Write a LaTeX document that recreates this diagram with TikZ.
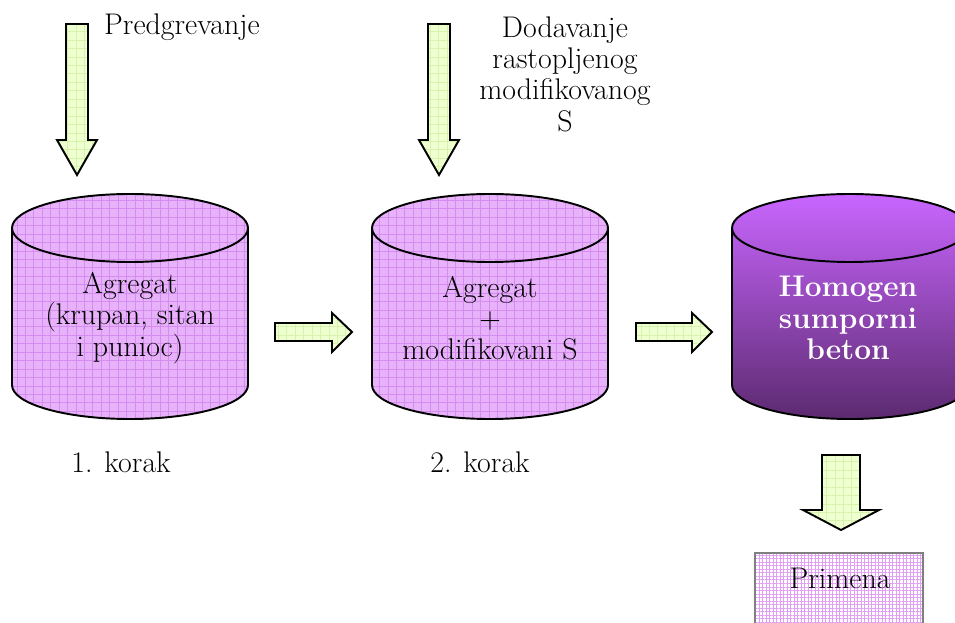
\documentclass[tikz,border=0pt]{standalone}
\usepackage{tikz}
\usepackage{xcolor}
\usetikzlibrary{shapes,arrows,positioning,patterns.meta}

\definecolor{cylfill}{RGB}{232,178,250}
\definecolor{cylgrid}{RGB}{212,140,240}
\definecolor{arrfill}{RGB}{238,255,208}
\definecolor{arrgrid}{RGB}{214,242,172}
\definecolor{darktop}{RGB}{201,102,255}
\definecolor{darkbot}{RGB}{92,42,112}
\definecolor{boxgrid}{RGB}{226,160,245}

\begin{document}
\begin{tikzpicture}[x=0.02cm, y=0.02cm,
    every node/.style={font=\fontsize{17}{17.8}\selectfont, align=center},
    tank/.style={draw, line width=1.1pt, preaction={fill=cylfill}, pattern={Hatch[angle=0,distance=4.8pt,line width=0.4pt]}, pattern color=cylgrid},
    blockarrow/.style={draw, line width=1.1pt, preaction={fill=arrfill}, pattern={Hatch[angle=0,distance=4.8pt,line width=0.4pt]}, pattern color=arrgrid}]

    \clip (0,0) rectangle (955,622);

    % tanks
    \foreach \cx in {130,490} {
        \draw[tank] (\cx-118,394) -- (\cx-118,237) arc (180:360:118 and 34) -- (\cx+118,394) arc (0:180:118 and 34) -- cycle;
        \draw[line width=1.1pt] (\cx-118,394) arc (180:360:118 and 34);
    }
    \draw[line width=1.1pt, top color=darktop, bottom color=darkbot] (732,394) -- (732,237) arc (180:360:118 and 34) -- (968,394) arc (0:180:118 and 34) -- cycle;
    \draw[line width=1.1pt] (732,394) arc (180:360:118 and 34);

    % primena box
    \draw[draw=gray, line width=0.8pt, preaction={fill=white}, pattern={Hatch[angle=0,distance=2pt,line width=0.4pt]}, pattern color=boxgrid] (755,-10) rectangle (923,69);

    % block arrows
    \draw[blockarrow] (66,598) -- (88,598) -- (88,482) -- (97,482) -- (77,447) -- (57,482) -- (66,482) -- cycle;
    \draw[blockarrow] (428,598) -- (450,598) -- (450,482) -- (459,482) -- (439,447) -- (419,482) -- (428,482) -- cycle;
    \draw[blockarrow] (275,299) -- (332,299) -- (332,309) -- (352,290) -- (332,270) -- (332,281) -- (275,281) -- cycle;
    \draw[blockarrow] (636,299) -- (692,299) -- (692,309) -- (712,290) -- (692,270) -- (692,281) -- (636,281) -- cycle;
    \draw[blockarrow] (822,167) -- (860,167) -- (860,112) -- (879,112) -- (841,92) -- (803,112) -- (822,112) -- cycle;

    % texts
    \node (agregat) at (130,304) {Agregat\\(krupan, sitan\\i punioc)};
    \node (smesa) at (490,304) {Agregat\\+\\modifikovani S};
    \node (beton) at (848,304) [text=white, font=\fontsize{17}{17.8}\selectfont\bfseries] {Homogen\\sumporni\\beton};
    \node (predgrevanje) [anchor=west] at (98,595) {Predgrevanje};
    \node (dodavanje) at (565,548) {Dodavanje\\rastopljenog\\modifikovanog\\S};
    \node (korak1) at (121,160) {1. korak};
    \node (korak2) at (480,160) {2. korak};
    \node (primena) at (840,44) {Primena};
\end{tikzpicture}
\end{document}
